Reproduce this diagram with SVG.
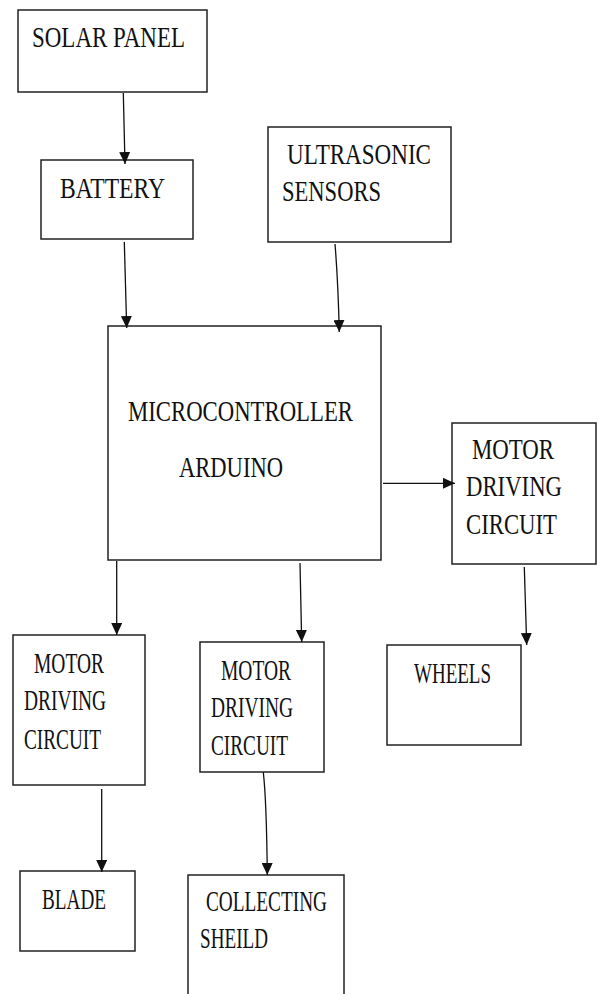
<svg xmlns="http://www.w3.org/2000/svg" width="614" height="994" viewBox="0 0 614 994">
<style>
.box{fill:#fff;stroke:#222;stroke-width:1.5}
.lbl{font-family:'Liberation Serif','Times New Roman','DejaVu Serif',serif;font-size:29px;fill:#111}
.edge{fill:none;stroke:#111;stroke-width:1.3;marker-end:url(#ah)}
</style>
<defs>
<marker id="ah" markerUnits="userSpaceOnUse" markerWidth="12" markerHeight="11" refX="12" refY="5.5" orient="auto">
<path d="M0,0 L12,5.5 L0,11 Z" fill="#111"/>
</marker>
</defs>
<rect width="614" height="994" fill="#fff"/>
<g id="solar-panel">
<rect class="box" x="18" y="10" width="189" height="82"/>
<text class="lbl" x="32" y="47" textLength="153" lengthAdjust="spacingAndGlyphs">SOLAR PANEL</text>
</g>
<g id="battery">
<rect class="box" x="41" y="160" width="152" height="79"/>
<text class="lbl" x="60" y="198" textLength="105" lengthAdjust="spacingAndGlyphs">BATTERY</text>
</g>
<g id="ultrasonic">
<rect class="box" x="268" y="127" width="183" height="115"/>
<text class="lbl" x="287" y="164" textLength="144" lengthAdjust="spacingAndGlyphs">ULTRASONIC</text>
<text class="lbl" x="282" y="201" textLength="99" lengthAdjust="spacingAndGlyphs">SENSORS</text>
</g>
<g id="microcontroller">
<rect class="box" x="108" y="326" width="273" height="234"/>
<text class="lbl" x="128" y="421" textLength="225" lengthAdjust="spacingAndGlyphs">MICROCONTROLLER</text>
<text class="lbl" x="179" y="477" textLength="104" lengthAdjust="spacingAndGlyphs">ARDUINO</text>
</g>
<g id="mdc-right">
<rect class="box" x="452" y="423" width="144" height="141"/>
<text class="lbl" x="472" y="459" textLength="82" lengthAdjust="spacingAndGlyphs">MOTOR</text>
<text class="lbl" x="466" y="496" textLength="96" lengthAdjust="spacingAndGlyphs">DRIVING</text>
<text class="lbl" x="466" y="534" textLength="91" lengthAdjust="spacingAndGlyphs">CIRCUIT</text>
</g>
<g id="wheels">
<rect class="box" x="387" y="645" width="134" height="100"/>
<text class="lbl" x="414" y="683" textLength="77" lengthAdjust="spacingAndGlyphs">WHEELS</text>
</g>
<g id="mdc-left">
<rect class="box" x="13" y="635" width="132" height="150"/>
<text class="lbl" x="34" y="673" textLength="70" lengthAdjust="spacingAndGlyphs">MOTOR</text>
<text class="lbl" x="24" y="710" textLength="82" lengthAdjust="spacingAndGlyphs">DRIVING</text>
<text class="lbl" x="24" y="749" textLength="77" lengthAdjust="spacingAndGlyphs">CIRCUIT</text>
</g>
<g id="mdc-middle">
<rect class="box" x="200" y="642" width="124" height="130"/>
<text class="lbl" x="221" y="680" textLength="70" lengthAdjust="spacingAndGlyphs">MOTOR</text>
<text class="lbl" x="211" y="717" textLength="82" lengthAdjust="spacingAndGlyphs">DRIVING</text>
<text class="lbl" x="211" y="755" textLength="77" lengthAdjust="spacingAndGlyphs">CIRCUIT</text>
</g>
<g id="blade">
<rect class="box" x="20" y="871" width="115" height="80"/>
<text class="lbl" x="42" y="909" textLength="64" lengthAdjust="spacingAndGlyphs">BLADE</text>
</g>
<g id="collecting-shield">
<rect class="box" x="188" y="875" width="156" height="130"/>
<text class="lbl" x="206" y="911" textLength="121" lengthAdjust="spacingAndGlyphs">COLLECTING</text>
<text class="lbl" x="200" y="948" textLength="68" lengthAdjust="spacingAndGlyphs">SHEILD</text>
</g>
<g id="connectors">
<path class="edge" d="M123.3,93 L125,164"/>
<path class="edge" d="M124.3,242 Q125.5,285 126.7,328"/>
<path class="edge" d="M335,244 Q338,280 339.3,332"/>
<path class="edge" d="M383,483.3 L455,483.3"/>
<path class="edge" d="M524.3,567 L526.7,645"/>
<path class="edge" d="M116.7,561 L116.7,635"/>
<path class="edge" d="M300,563 L301.7,642"/>
<path class="edge" d="M101.7,789 L101.7,872"/>
<path class="edge" d="M263.3,772.3 Q266.5,800 267.3,875"/>
</g>
</svg>
